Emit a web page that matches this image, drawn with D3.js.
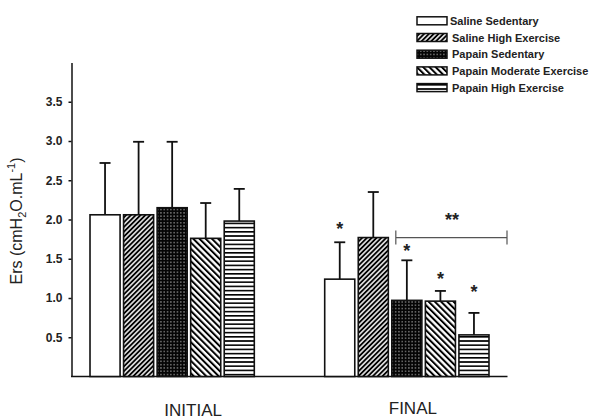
<!DOCTYPE html>
<html>
<head>
<meta charset="utf-8">
<script src="https://cdn.jsdelivr.net/npm/d3@7"></script>
<style>
  html, body { margin: 0; padding: 0; background: #fff; }
  svg { display: block; font-family: Arial, "Liberation Sans", sans-serif; }
</style>
</head>
<body>
<svg id="chart" width="591" height="418"></svg>
<script>
// ---- data ----
const groups = ["INITIAL", "FINAL"];
const series = ["Saline Sedentary", "Saline High Exercise", "Papain Sedentary", "Papain Moderate Exercise", "Papain High Exercise"];
const initialValues = [2.06, 2.06, 2.15, 1.76, 1.98];
const initialErrors = [0.66, 0.93, 0.84, 0.45, 0.41];
const finalValues = [1.24, 1.77, 0.97, 0.96, 0.53];
const finalErrors = [0.47, 0.58, 0.51, 0.13, 0.28];
const yTicks = [0.5, 1.0, 1.5, 2.0, 2.5, 3.0, 3.5];
const starSeries = [0, 2, 3, 4];          // FINAL bars marked with *
const starValues = [1.93, 1.65, 1.29, 1.13];
const bracketValue = 1.77;                // ** bracket level
const bracketLabelValue = 2.05;

const values = [initialValues, finalValues];
const errors = [initialErrors, finalErrors];

const svg = d3.select("#chart");
const defs = svg.append("defs");

// ---- patterns ----
function linePattern(id, angle, size, lineW, bg) {
  const p = defs.append("pattern").attr("id", id)
    .attr("patternUnits", "userSpaceOnUse")
    .attr("width", size).attr("height", size)
    .attr("patternTransform", `rotate(${angle})`);
  p.append("rect").attr("width", size).attr("height", size).attr("fill", bg);
  p.append("rect").attr("x", 0).attr("y", 0).attr("width", lineW).attr("height", size).attr("fill", "#000");
}
linePattern("pSHE", 45, 3.4, 1.7, "#d8d8d8");
linePattern("pPME", -45, 4.4, 2.0, "#ffffff");
(function () {
  const p = defs.append("pattern").attr("id", "pPHE")
    .attr("patternUnits", "userSpaceOnUse").attr("width", 4).attr("height", 4.2);
  p.append("rect").attr("width", 4).attr("height", 4.2).attr("fill", "#fff");
  p.append("rect").attr("y", 0).attr("width", 4).attr("height", 1.6).attr("fill", "#000");
})();
(function () {
  const p = defs.append("pattern").attr("id", "pPS")
    .attr("patternUnits", "userSpaceOnUse").attr("width", 3.3).attr("height", 3.3);
  p.append("rect").attr("width", 3.3).attr("height", 3.3).attr("fill", "#050505");
  p.append("rect").attr("x", 1).attr("y", 1).attr("width", 1.3).attr("height", 1.3).attr("fill", "#9a9a9a");
})();
const fills = ["#ffffff", "url(#pSHE)", "url(#pPS)", "url(#pPME)", "url(#pPHE)"];

// ---- scales ----
const y = d3.scaleLinear().domain([0, 4]).range([376.5, 62.5]);
const x0 = d3.scaleBand().domain(groups).range([71, 508]).paddingInner(0.3).paddingOuter(0.081);
const x1 = d3.scaleBand().domain(series).range([0, x0.bandwidth()]).paddingInner(0.104).paddingOuter(0);

// ---- y axis ----
const yAxis = d3.axisLeft(y).tickValues(yTicks).tickFormat(d3.format(".1f"))
  .tickSize(3).tickSizeOuter(0).tickPadding(6);
const ya = svg.append("g").attr("transform", "translate(71.5,0)").call(yAxis);
ya.select(".domain").attr("stroke", "#111").attr("stroke-width", 1.5);
ya.selectAll(".tick line").attr("stroke", "#111").attr("stroke-width", 1.5);
ya.selectAll(".tick text").attr("font-size", 12).attr("font-weight", "bold")
  .attr("fill", "#222").attr("font-family", "Arial, 'Liberation Sans', sans-serif");

// ---- x axis baseline ----
const xa = svg.append("g").attr("transform", `translate(0,${y(0)})`)
  .call(d3.axisBottom(x0).tickSize(0).tickSizeOuter(0).tickFormat(""));
xa.select(".domain").attr("d", `M71,0H${x0.range()[1] - 0.5}`).attr("stroke", "#111").attr("stroke-width", 1.5);

// ---- bars ----
groups.forEach((g, gi) => {
  const gg = svg.append("g").attr("transform", `translate(${x0(g)},0)`);
  series.forEach((s, si) => {
    const v = values[gi][si], e = errors[gi][si];
    const cx = x1(s) + x1.bandwidth() / 2;
    // error bar
    gg.append("line").attr("x1", cx).attr("x2", cx).attr("y1", y(v)).attr("y2", y(v + e))
      .attr("stroke", "#111").attr("stroke-width", 1.8);
    gg.append("line").attr("x1", cx - 5.5).attr("x2", cx + 5.5).attr("y1", y(v + e)).attr("y2", y(v + e))
      .attr("stroke", "#111").attr("stroke-width", 1.8);
    gg.append("rect").attr("x", x1(s)).attr("y", y(v)).attr("width", x1.bandwidth())
      .attr("height", y(0) - y(v)).attr("fill", fills[si]).attr("stroke", "#111").attr("stroke-width", 1.6);
  });
});

// ---- stars ----
const fg = svg.append("g").attr("transform", `translate(${x0("FINAL")},0)`);
starSeries.forEach((si, k) => {
  fg.append("text").attr("x", x1(series[si]) + x1.bandwidth() / 2).attr("y", y(starValues[k]) + 10)
    .attr("text-anchor", "middle").attr("font-size", 18).attr("font-weight", "bold").attr("fill", "#222").text("*");
});
const bx0 = x1(series[2]) + 4, bx1 = x0.range()[1] - 1 - x0("FINAL");
const by = y(bracketValue);
fg.append("path").attr("d", `M${bx0},${by - 7}V${by + 7}M${bx0},${by}H${bx1}M${bx1},${by - 7}V${by + 7}`)
  .attr("fill", "none").attr("stroke", "#555").attr("stroke-width", 1.2);
fg.append("text").attr("x", (bx0 + bx1) / 2 + 0.5).attr("y", y(bracketLabelValue) + 10)
  .attr("text-anchor", "middle").attr("font-size", 18).attr("font-weight", "bold").attr("fill", "#222").text("**");

// ---- group labels ----
svg.append("text").attr("x", x0("INITIAL") + x0.bandwidth() / 2 + 21).attr("y", 415.5)
  .attr("text-anchor", "middle").attr("font-size", 17).attr("fill", "#222").text("INITIAL");
svg.append("text").attr("x", x0("FINAL") + x0.bandwidth() / 2 + 6).attr("y", 413.5)
  .attr("text-anchor", "middle").attr("font-size", 17).attr("fill", "#222").text("FINAL");

// ---- y label ----
const yl = svg.append("text").attr("transform", "translate(22,221) rotate(-90)")
  .attr("text-anchor", "middle").attr("font-size", 16).attr("fill", "#222");
yl.append("tspan").text("Ers (cmH");
yl.append("tspan").attr("font-size", 11).attr("dy", 4).text("2");
yl.append("tspan").attr("dy", -4).text("O.mL");
yl.append("tspan").attr("font-size", 11).attr("dy", -7).text("-1");
yl.append("tspan").attr("dy", 7).text(")");

// ---- legend ----
const legend = svg.append("g");
series.forEach((s, i) => {
  const cy = 20.8 + i * 16.7;
  legend.append("rect").attr("x", 417).attr("y", cy - 4).attr("width", 30).attr("height", 8)
    .attr("fill", fills[i]).attr("stroke", "#111").attr("stroke-width", 1.5);
  legend.append("text").attr("x", i === 0 ? 450 : 452).attr("y", cy + 4)
    .attr("font-size", 11).attr("font-weight", "bold").attr("fill", "#222").text(s);
});
</script>
</body>
</html>
